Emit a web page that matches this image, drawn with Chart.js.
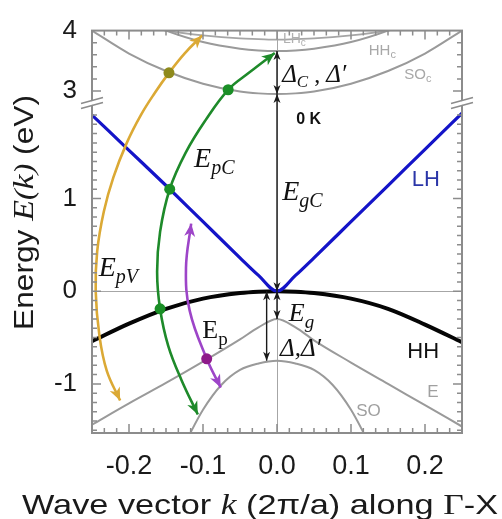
<!DOCTYPE html>
<html>
<head>
<meta charset="utf-8">
<title>Band structure along Gamma-X</title>
<script src="https://cdn.jsdelivr.net/npm/chart.js@4.4.1/dist/chart.umd.min.js"></script>
<style>
  html, body { margin: 0; padding: 0; background: #fff; }
  #wrap { width: 502px; height: 519px; }
</style>
</head>
<body>
<div id="wrap"><canvas id="bandChart" width="502" height="519"></canvas></div>
<script>
// wave vector k in units of 2pi/a, energies in eV
const kBand = [-0.25, -0.2, -0.15, -0.1, -0.05, -0.025, 0, 0.025, 0.05, 0.1, 0.15, 0.2, 0.25];
const eHeavyHole = [-0.54, -0.35, -0.19, -0.08, -0.02, -0.005, 0, -0.005, -0.02, -0.08, -0.19, -0.36, -0.55];
const eLightHole = [1.90, 1.52, 1.14, 0.75, 0.36, 0.17, 0, 0.17, 0.36, 0.75, 1.14, 1.53, 1.92];
const eBandE = [-1.44, -1.21, -0.99, -0.76, -0.52, -0.39, -0.30, -0.39, -0.53, -0.77, -1.00, -1.23, -1.46];
const eSOc = [4.00, 3.62, 3.33, 3.12, 2.99, 2.96, 2.95, 2.96, 2.99, 3.12, 3.33, 3.62, 4.00];
const eHHc = [4.60, 4.26, 4.00, 3.81, 3.70, 3.67, 3.66, 3.67, 3.70, 3.81, 4.00, 4.26, 4.60];
const eLHc = [4.25, 4.12, 4.00, 3.92, 3.87, 3.86, 3.85, 3.86, 3.87, 3.92, 4.00, 4.12, 4.25];

// split-off band falls off faster, sampled on its own grid
const kSO = [-0.125, -0.1, -0.075, -0.05, -0.025, 0, 0.025, 0.05, 0.075, 0.1, 0.125];
const eSO = [-1.65, -1.28, -1.01, -0.85, -0.78, -0.75, -0.78, -0.85, -1.01, -1.28, -1.65];

// transition arcs (k, E) from tail to head
const kGold = [-0.212, -0.230, -0.240, -0.245, -0.243, -0.234, -0.221, -0.203, -0.184, -0.165, -0.146, -0.125, -0.101];
const eGold = [-1.18, -0.86, -0.48, 0.0, 0.43, 0.86, 1.23, 1.60, 1.90, 2.97, 3.30, 3.62, 3.92];
const kGreen = [-0.107, -0.129, -0.147, -0.158, -0.162, -0.158, -0.145, -0.123, -0.097, -0.066, -0.038, -0.003];
const eGreen = [-1.33, -0.96, -0.59, -0.19, 0.21, 0.64, 1.10, 1.50, 1.84, 3.02, 3.30, 3.63];
const kPurple = [-0.116, -0.123, -0.118, -0.095, -0.076];
const ePurple = [0.73, 0.25, -0.21, -0.73, -1.04];

// vertical gap arrows: k, E from, E to
const gapArrows = [[0, 0, 2.95], [0, 2.95, 3.66], [0, 0, -0.30], [-0.014, 0, -0.75]];

const xTickValues = [-0.2, -0.1, 0, 0.1, 0.2];
const yTickValues = [-1, 0, 1, 3, 4];

// broken energy axis: lower and upper panel ranges
const LOW_RANGE = [-1.53, 2.03];
const HIGH_RANGE = [2.8, 4.0];
const LOW_SHARE = 0.82;

const SANS = '"Liberation Sans", Arial, sans-serif';
const SERIF = '"Liberation Serif", "Times New Roman", serif';

class BrokenLinearScale extends Chart.LinearScale {
  breakPixel() {
    return this.bottom - (this.bottom - this.top) * LOW_SHARE;
  }
  getPixelForValue(value) {
    if (value === null || value === undefined || isNaN(value)) return NaN;
    const yb = this.breakPixel();
    if (value <= (LOW_RANGE[1] + HIGH_RANGE[0]) / 2) {
      return this.bottom - (value - LOW_RANGE[0]) / (LOW_RANGE[1] - LOW_RANGE[0]) * (this.bottom - yb);
    }
    return yb - (value - HIGH_RANGE[0]) / (HIGH_RANGE[1] - HIGH_RANGE[0]) * (yb - this.top);
  }
  getValueForPixel(pixel) {
    const yb = this.breakPixel();
    if (pixel >= yb) {
      return LOW_RANGE[0] + (this.bottom - pixel) / (this.bottom - yb) * (LOW_RANGE[1] - LOW_RANGE[0]);
    }
    return HIGH_RANGE[0] + (yb - pixel) / (yb - this.top) * (HIGH_RANGE[1] - HIGH_RANGE[0]);
  }
}
BrokenLinearScale.id = 'brokenLinear';
BrokenLinearScale.defaults = {};
Chart.register(BrokenLinearScale);

const pairs = (ks, es) => ks.map((k, i) => ({ x: k, y: es[i] }));

function band(data, color, width, order) {
  return {
    data, borderColor: color, borderWidth: width, pointRadius: 0,
    cubicInterpolationMode: 'monotone', order
  };
}

function arc(data, color, dotColor, dots) {
  return {
    data, borderColor: color, borderWidth: 2.6, tension: 0.4, order: 0,
    pointRadius: data.map((p, i) => dots.includes(i) ? 5.5 : 0),
    pointBackgroundColor: dotColor, pointBorderWidth: 0,
    arrowColor: color
  };
}

function arrowHead(ctx, tx, ty, fx, fy, color, len, half) {
  const a = Math.atan2(ty - fy, tx - fx);
  ctx.save();
  ctx.translate(tx, ty);
  ctx.rotate(a);
  ctx.beginPath();
  ctx.moveTo(0, 0);
  ctx.lineTo(-len, -half);
  ctx.lineTo(-len * 0.72, 0);
  ctx.lineTo(-len, half);
  ctx.closePath();
  ctx.fillStyle = color;
  ctx.fill();
  ctx.restore();
}

function drawParts(ctx, x, y, parts, color) {
  ctx.save();
  ctx.fillStyle = color;
  ctx.textAlign = 'left';
  ctx.textBaseline = 'alphabetic';
  let cx = x;
  parts.forEach(([text, font, dy]) => {
    ctx.font = font;
    ctx.fillText(text, cx, y + (dy || 0));
    cx += ctx.measureText(text).width;
  });
  ctx.restore();
}

function partsWidth(ctx, parts) {
  let w = 0;
  parts.forEach(([text, font]) => { ctx.font = font; w += ctx.measureText(text).width; });
  return w;
}

// in-plot labels, anchored at (k, E) of their baseline start
const labels = [
  { k: 0.007, e: 3.15, color: '#111', parts: [['\u0394', 'italic 25px ' + SERIF], ['C', 'italic 17px ' + SERIF, 5], [' , ', '24px ' + SERIF], ['\u0394\u2032', 'italic 25px ' + SERIF]] },
  { k: 0.026, e: 1.80, color: '#111', parts: [['0 K', 'bold 16px ' + SANS]] },
  { k: -0.112, e: 1.34, color: '#111', parts: [['E', 'italic 28px ' + SERIF], ['pC', 'italic 20px ' + SERIF, 7]] },
  { k: 0.007, e: 0.98, color: '#111', parts: [['E', 'italic 28px ' + SERIF], ['gC', 'italic 20px ' + SERIF, 7]] },
  { k: 0.182, e: 1.14, color: '#2b36a8', parts: [['LH', '22px ' + SANS]] },
  { k: -0.241, e: 0.16, color: '#111', parts: [['E', 'italic 28px ' + SERIF], ['pV', 'italic 20px ' + SERIF, 7]] },
  { k: -0.101, e: -0.51, color: '#111', parts: [['E', '26px ' + SERIF], ['p', '19px ' + SERIF, 7]] },
  { k: 0.016, e: -0.32, color: '#111', parts: [['E', 'italic 26px ' + SERIF], ['g', 'italic 19px ' + SERIF, 7]] },
  { k: 0.004, e: -0.70, color: '#111', parts: [['\u0394,\u0394\u2032', 'italic 25px ' + SERIF]] },
  { k: 0.176, e: -0.72, color: '#111', parts: [['HH', '22px ' + SANS]] },
  { k: 0.203, e: -1.14, color: '#a0a0a0', parts: [['E', '17px ' + SANS]] },
  { k: 0.107, e: -1.35, color: '#a0a0a0', parts: [['SO', '17px ' + SANS]] },
  { k: 0.172, e: 3.20, color: '#a8a8a8', parts: [['SO', '15px ' + SANS], ['c', '11px ' + SANS, 3]] },
  { k: 0.124, e: 3.59, color: '#a8a8a8', parts: [['HH', '15px ' + SANS], ['c', '11px ' + SANS, 3]] },
  { k: 0.008, e: 3.79, color: '#b0b0b0', parts: [['LH', '14px ' + SANS], ['c', '10px ' + SANS, 3]] }
];

const bandDecor = {
  id: 'bandDecor',
  beforeDatasetsDraw(chart) {
    const { ctx, chartArea: a, scales: { x, y } } = chart;
    ctx.save();
    ctx.strokeStyle = '#a6a6a6';
    ctx.lineWidth = 1;
    ctx.beginPath();
    const x0 = Math.round(x.getPixelForValue(0)) + 0.5;
    ctx.moveTo(x0, a.top); ctx.lineTo(x0, a.bottom);
    const y0 = Math.round(y.getPixelForValue(0)) + 0.5;
    ctx.moveTo(a.left, y0); ctx.lineTo(a.right, y0);
    ctx.stroke();
    ctx.restore();
  },
  afterDatasetsDraw(chart) {
    const { ctx, chartArea: a, scales: { x, y } } = chart;

    // arrow heads at both ends of each transition arc
    chart.data.datasets.forEach((ds, i) => {
      if (!ds.arrowColor) return;
      const pts = chart.getDatasetMeta(i).data;
      const n = pts.length;
      arrowHead(ctx, pts[0].x, pts[0].y, pts[1].x, pts[1].y, ds.arrowColor, 13, 5.5);
      arrowHead(ctx, pts[n - 1].x, pts[n - 1].y, pts[n - 2].x, pts[n - 2].y, ds.arrowColor, 13, 5.5);
    });

    // vertical gap arrows
    ctx.save();
    ctx.strokeStyle = '#1a1a1a';
    ctx.lineWidth = 1.4;
    gapArrows.forEach(([k, e1, e2]) => {
      const px = x.getPixelForValue(k);
      const p1 = y.getPixelForValue(e1);
      const p2 = y.getPixelForValue(e2);
      ctx.beginPath();
      ctx.moveTo(px, p1); ctx.lineTo(px, p2);
      ctx.stroke();
      arrowHead(ctx, px, p1, px, p2, '#1a1a1a', 9, 3.5);
      arrowHead(ctx, px, p2, px, p1, '#1a1a1a', 9, 3.5);
    });
    ctx.restore();

    // frame and inward ticks
    ctx.save();
    ctx.strokeStyle = '#8c8c8c';
    ctx.lineWidth = 2;
    ctx.strokeRect(a.left, a.top, a.right - a.left, a.bottom - a.top);
    ctx.lineWidth = 1.5;
    ctx.beginPath();
    for (let i = -15; i <= 15; i++) {
      const px = x.getPixelForValue(i / 60);
      const len = i % 6 === 0 ? 9 : 5;
      ctx.moveTo(px, a.bottom); ctx.lineTo(px, a.bottom - len);
      ctx.moveTo(px, a.top); ctx.lineTo(px, a.top + len);
    }
    const yMarks = [];
    for (let i = -15; i <= 19; i++) yMarks.push([i / 10, i % 10 === 0]);
    [3.0, 3.2, 3.4, 3.6, 3.8].forEach(v => yMarks.push([v, v === 3.0]));
    yMarks.forEach(([v, major]) => {
      const py = y.getPixelForValue(v);
      const len = major ? 9 : 5;
      ctx.moveTo(a.left, py); ctx.lineTo(a.left + len, py);
      ctx.moveTo(a.right, py); ctx.lineTo(a.right - len, py);
    });
    ctx.stroke();
    ctx.restore();

    // labels inside the plot
    labels.forEach(l => {
      drawParts(ctx, x.getPixelForValue(l.k), y.getPixelForValue(l.e), l.parts, l.color);
    });
  },
  afterDraw(chart) {
    const { ctx, chartArea: a, scales: { y } } = chart;
    const yb = y.breakPixel();

    // axis break marks on both sides
    ctx.save();
    [a.left, a.right].forEach(bx => {
      ctx.fillStyle = '#fff';
      ctx.beginPath();
      ctx.moveTo(bx - 11, yb + 5); ctx.lineTo(bx + 11, yb - 1);
      ctx.lineTo(bx + 11, yb - 5); ctx.lineTo(bx - 11, yb + 1);
      ctx.closePath();
      ctx.fill();
      ctx.strokeStyle = '#8c8c8c';
      ctx.lineWidth = 1.6;
      ctx.beginPath();
      ctx.moveTo(bx - 11, yb + 5.5); ctx.lineTo(bx + 11, yb - 0.5);
      ctx.moveTo(bx - 11, yb + 0.5); ctx.lineTo(bx + 11, yb - 5.5);
      ctx.stroke();
    });
    ctx.restore();

    // axis titles with mixed upright / italic text
    const yTitle = [['Energy ', '27px ' + SANS], ['E', 'italic 29px ' + SERIF], ['(', 'italic 27px ' + SERIF],
      ['k', 'italic 29px ' + SERIF], [')', 'italic 27px ' + SERIF], [' (eV)', '27px ' + SANS]];
    const xTitle = [['Wave vector ', '28px ' + SANS], ['k', 'italic 29px ' + SERIF], [' (2\u03c0/a) along ', '28px ' + SANS],
      ['\u0393', '29px ' + SERIF], ['-X', '28px ' + SANS]];

    ctx.save();
    const yw = partsWidth(ctx, yTitle);
    ctx.translate(33, 330);
    ctx.rotate(-Math.PI / 2);
    ctx.scale(235 / yw, 1);
    drawParts(ctx, 0, 0, yTitle, '#1a1a1a');
    ctx.restore();

    ctx.save();
    const xw = partsWidth(ctx, xTitle);
    ctx.translate(22, 514);
    ctx.scale(476 / xw, 1);
    drawParts(ctx, 0, 0, xTitle, '#1a1a1a');
    ctx.restore();
  }
};

const ctx = document.getElementById('bandChart').getContext('2d');
new Chart(ctx, {
  type: 'line',
  data: {
    datasets: [
      band(pairs(kBand, eSOc), '#9a9a9a', 2, 3),
      band(pairs(kBand, eHHc), '#9a9a9a', 2, 3),
      band(pairs(kBand, eLHc), '#a6a6a6', 1.8, 3),
      band(pairs(kBand, eBandE), '#9a9a9a', 2, 3),
      band(pairs(kSO, eSO), '#9a9a9a', 2, 3),
      band(pairs(kBand, eLightHole), '#1414c8', 3.2, 2),
      band(pairs(kBand, eHeavyHole), '#050505', 4, 2),
      arc(pairs(kGold, eGold), '#dba935', '#8f8a1c', [10]),
      arc(pairs(kGreen, eGreen), '#1e8a2a', '#1a8f26', [3, 6, 9]),
      arc(pairs(kPurple, ePurple), '#9d45c8', '#8e1a8a', [3])
    ]
  },
  options: {
    responsive: false,
    animation: false,
    events: [],
    layout: { padding: { top: 27, right: 40, left: 0, bottom: 0 } },
    plugins: { legend: { display: false }, tooltip: { enabled: false } },
    scales: {
      x: {
        type: 'linear',
        min: -0.25,
        max: 0.25,
        grid: { display: false, drawTicks: false },
        border: { display: false },
        afterBuildTicks: s => { s.ticks = xTickValues.map(v => ({ value: v })); },
        afterFit: s => { s.height = 86; },
        ticks: {
          autoSkip: false,
          maxRotation: 0,
          padding: 17,
          color: '#1a1a1a',
          font: { family: SANS, size: 27 },
          callback: v => v.toFixed(1)
        }
      },
      y: {
        type: 'brokenLinear',
        min: LOW_RANGE[0],
        max: HIGH_RANGE[1],
        grid: { display: false, drawTicks: false },
        border: { display: false },
        afterBuildTicks: s => { s.ticks = yTickValues.map(v => ({ value: v })); },
        afterFit: s => { s.width = 92; },
        ticks: {
          autoSkip: false,
          padding: 15,
          color: '#1a1a1a',
          font: { family: SANS, size: 26 },
          callback: v => String(v)
        }
      }
    }
  },
  plugins: [bandDecor]
});
</script>
</body>
</html>
